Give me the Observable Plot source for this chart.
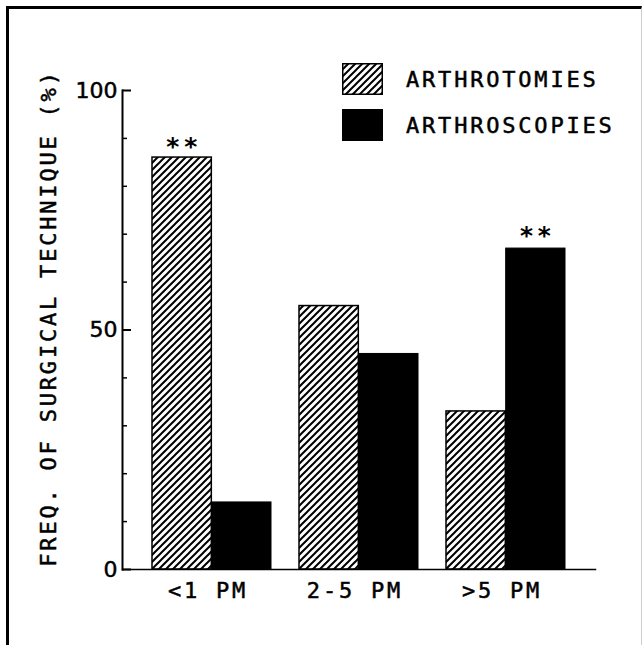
<!DOCTYPE html>
<html><head><meta charset="utf-8">
<script src="https://cdn.jsdelivr.net/npm/d3@7"></script>
<script src="https://cdn.jsdelivr.net/npm/@observablehq/plot@0.6"></script>
<style>
html,body{margin:0;padding:0;background:#fff;}
#wrap{position:relative;width:642px;height:645px;overflow:hidden;}
#chart{position:absolute;left:0;top:0;}
#frame{position:absolute;left:6px;top:6px;right:0;bottom:-10px;border-left:3px solid #000;border-top:3px solid #000;border-right:1px solid #ccc;pointer-events:none;}
#legend{position:absolute;left:342px;top:63px;font-family:'DejaVu Sans Mono';font-size:22px;letter-spacing:2.8px;color:#000;-webkit-text-stroke:0.5px #000;}
.row{display:flex;align-items:center;height:32px;margin-bottom:14px;}
.row svg{margin-right:23px;display:block;}
</style></head>
<body><div id="wrap"><div id="chart"></div><div id="legend"></div><div id="frame"></div></div>
<script>
// ---- data ----
const groups = ["<1 PM", "2-5 PM", ">5 PM"];
const arthrotomies = [86, 55, 33];
const arthroscopies = [14, 45, 67];
const seriesNames = ["ARTHROTOMIES", "ARTHROSCOPIES"];
const yTicks = [0, 50, 100];
const yMinorTicks = [10, 20, 30, 40, 60, 70, 80, 90];
const yTitle = "FREQ. OF SURGICAL TECHNIQUE (%)";
const starMarks = [["<1 PM", "ARTHROTOMIES"], [">5 PM", "ARTHROSCOPIES"]];
const starText = "**";

// ---- layout ----
const W = 642, H = 645, mL = 122, mR = 47, mT = 90, mB = 76;
const padIn = 0.19, padOut = 0.2;
const plotW = W - mL - mR;
const step = plotW / (groups.length - padIn + 2 * padOut);
const half = step * (1 - padIn) / 2;

const rows = groups.map((g, i) => ({group: g, ARTHROTOMIES: arthrotomies[i], ARTHROSCOPIES: arthroscopies[i]}));
const stars = starMarks.map(([g, s]) => ({group: g, series: s, value: rows.find(r => r.group === g)[s]}));

const svg = Plot.plot({
  width: W, height: H,
  marginLeft: mL, marginRight: mR, marginTop: mT, marginBottom: mB,
  style: "font-family:'DejaVu Sans Mono';font-size:22px;letter-spacing:2.8px;color:#000;background:transparent;overflow:visible;",
  x: {domain: groups, paddingInner: padIn, paddingOuter: padOut},
  y: {domain: [0, 100]},
  marks: [
    Plot.barY(rows, {x: "group", y: seriesNames[0], insetRight: half, fill: "url(#hatch)", stroke: "black", strokeWidth: 1.5}),
    Plot.barY(rows, {x: "group", y: seriesNames[1], insetLeft: half, fill: "black", stroke: "black", strokeWidth: 1}),
    Plot.text(stars.filter(d => d.series === seriesNames[0]), {x: "group", y: "value", text: () => starText, dx: -half / 2 + 1, dy: -11, fontWeight: "bold", fontSize: 25, letterSpacing: "1px"}),
    Plot.text(stars.filter(d => d.series === seriesNames[1]), {x: "group", y: "value", text: () => starText, dx: half / 2 + 1, dy: -13, fontWeight: "bold", fontSize: 25, letterSpacing: "1px"}),
    Plot.axisX({tickSize: 0, tickPadding: 13, dx: -4, label: null, fill: "black"}),
    Plot.axisY({ticks: yTicks, tickSize: 0, tickPadding: 5, label: yTitle, labelAnchor: "center", labelOffset: 82, labelArrow: "none", fill: "black"}),
    Plot.ruleY(yTicks, {y: d => d, insetRight: plotW - 9, strokeWidth: 2}),
    Plot.ruleY(yMinorTicks, {y: d => d, insetRight: plotW - 5, strokeWidth: 1.5}),
    Plot.frame({anchor: "left", strokeWidth: 2}),
    Plot.frame({anchor: "bottom", strokeWidth: 1.5})
  ]
});

d3.select(svg).insert("defs", ":first-child").html(
  `<pattern id="hatch" patternUnits="userSpaceOnUse" width="7" height="7">
     <rect width="7" height="7" fill="white"/>
     <path d="M-1,1 l2,-2 M0,7 l7,-7 M6,8 l2,-2" stroke="black" stroke-width="2"/>
   </pattern>`);
d3.select(svg).selectAll('[aria-label="y-axis tick label"]').style("font-family", "'DejaVu Sans'").style("letter-spacing", "0px");
d3.select(svg).selectAll('[aria-label="y-axis label"] text').each(function () {
  const t = this.getAttribute("transform") || "";
  this.setAttribute("transform", "translate(0,-12) " + t);
});
d3.select(svg).selectAll('[aria-label="y-axis tick label"], [aria-label="x-axis tick label"], [aria-label="y-axis label"]')
  .attr("stroke", "black").attr("stroke-width", 0.5);
document.getElementById("chart").appendChild(svg);

// legend
const legend = d3.select("#legend");
seriesNames.forEach((name, i) => {
  const row = legend.append("div").attr("class", "row");
  const s = row.append("svg").attr("width", 41).attr("height", 32);
  s.append("rect").attr("x", 0.75).attr("y", 0.75).attr("width", 39.5).attr("height", 30.5)
    .attr("fill", i === 0 ? "url(#hatch)" : "black").attr("stroke", "black").attr("stroke-width", 1.5);
  row.append("span").text(name);
});
</script></body></html>
